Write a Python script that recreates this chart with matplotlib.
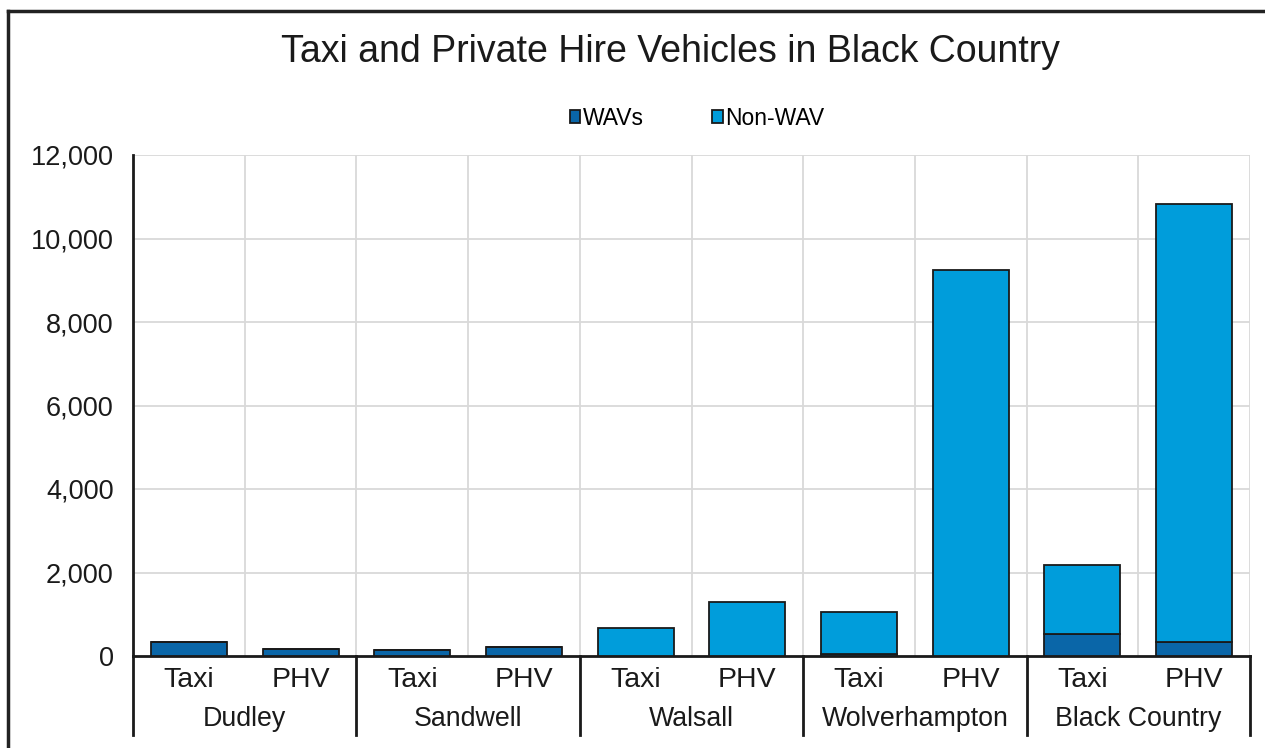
import numpy as np
import matplotlib
matplotlib.use("Agg")
import matplotlib.pyplot as plt
from matplotlib.lines import Line2D
from matplotlib.ticker import FuncFormatter

# data
areas = ["Dudley", "Sandwell", "Walsall", "Wolverhampton", "Black Country"]
types = ["Taxi", "PHV"]
wavs = [340, 170, 150, 210, 0, 0, 40, 0, 530, 340]
non_wav = [0, 0, 0, 0, 670, 1290, 1010, 9250, 1650, 10490]
y_ticks = [0, 2000, 4000, 6000, 8000, 10000, 12000]

wav_color = "#0a66a8"
non_wav_color = "#009ddb"

plt.rcParams["font.family"] = ["Liberation Sans", "DejaVu Sans"]

fig = plt.figure(figsize=(12.65, 7.48), dpi=100)
ax = fig.add_axes([133 / 1265, 92 / 748, 1117 / 1265, 501 / 748])

x = np.arange(len(wavs))
ax.bar(x, wavs, width=0.68, color=wav_color, edgecolor="#1a1a1a", lw=1.3,
       label="WAVs", zorder=3)
ax.bar(x, non_wav, width=0.68, bottom=wavs, color=non_wav_color,
       edgecolor="#1a1a1a", lw=1.3, label="Non-WAV", zorder=3)

ax.set_xlim(-0.5, len(wavs) - 0.5)
ax.set_ylim(0, 12000)
ax.set_yticks(y_ticks)
ax.yaxis.set_major_formatter(FuncFormatter(lambda v, p: f"{int(v):,}"))
ax.tick_params(axis="y", length=0, pad=14, labelsize=19.5, colors="#1a1a1a")
ax.set_xticks([])

# grid: horizontal at ticks, vertical between every bar
for yv in y_ticks[1:]:
    ax.axhline(yv, color="#d9d9d9", lw=1.3, zorder=0)
for xv in np.arange(0.5, len(wavs), 1.0):
    ax.axvline(xv, color="#d9d9d9", lw=1.3, zorder=0)

for s in ["top", "right"]:
    ax.spines[s].set_visible(False)
ax.spines["left"].set_color("#1a1a1a")
ax.spines["left"].set_linewidth(2)
ax.spines["bottom"].set_color("#1a1a1a")
ax.spines["bottom"].set_linewidth(2)

# two-level category axis
trans = ax.get_xaxis_transform()
for i in range(len(wavs)):
    ax.text(i, -0.048, types[i % 2], transform=trans, ha="center", va="center",
            fontsize=20.5, color="#1a1a1a")
for g, name in enumerate(areas):
    ax.text(2 * g + 0.5, -0.126, name, transform=trans, ha="center",
            va="center", fontsize=19.3, color="#1a1a1a")
for xv in np.arange(-0.5, len(wavs), 2.0):
    ax.add_line(Line2D([xv, xv], [0, -0.158], transform=trans,
                       color="#1a1a1a", lw=2, clip_on=False))

fig.text(0.530, 0.930, "Taxi and Private Hire Vehicles in Black Country",
         ha="center", va="center", fontsize=27, color="#1a1a1a")

fig.legend(loc="center", bbox_to_anchor=(0.551, 0.842), ncol=2,
           frameon=False, fontsize=16.5, handlelength=0.45, handleheight=0.45,
           handletextpad=0.1, columnspacing=3.0)

# outer frame
fig.add_artist(Line2D([8 / 1265, 8 / 1265], [0, 1 - 11 / 748],
                      transform=fig.transFigure, color="#222222", lw=2.5))
fig.add_artist(Line2D([8 / 1265, 1], [1 - 11 / 748, 1 - 11 / 748],
                      transform=fig.transFigure, color="#222222", lw=2.5))

fig.savefig("out.png", dpi=100)
